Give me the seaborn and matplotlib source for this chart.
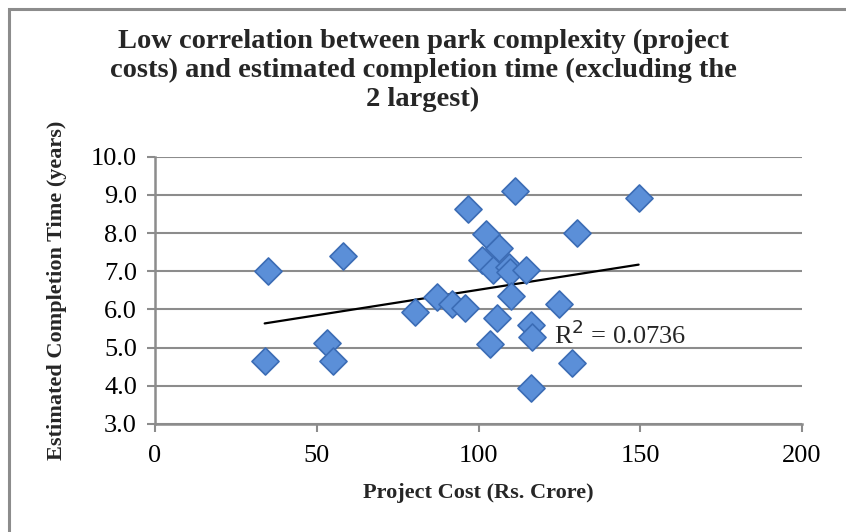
import numpy as np
import pandas as pd
import matplotlib
matplotlib.use("Agg")
import matplotlib.pyplot as plt
from matplotlib.patches import Rectangle
import seaborn as sns

# ── data ────────────────────────────────────
project_cost = [34.9, 33.9, 58.1, 53.3, 55.1, 80.3, 87.2, 91.8, 95.8, 96.6,
                102.2, 101.0, 106.4, 104.6, 109.5, 109.8, 114.8, 111.4, 149.5, 130.5,
                110.2, 105.6, 116.2, 116.6, 103.5, 128.8, 116.3, 125.0]
completion_years = [7.0, 4.65, 7.41, 5.13, 4.65, 5.92, 6.33, 6.13, 6.03, 8.62,
                    7.98, 7.30, 7.62, 7.02, 7.12, 6.97, 7.02, 9.11, 8.93, 8.0,
                    6.34, 5.78, 5.60, 5.28, 5.09, 4.60, 3.95, 6.14]
r2_label = "R$^2$ = 0.0736"
x_ticks = [0, 50, 100, 150, 200]
y_ticks = [3.0, 4.0, 5.0, 6.0, 7.0, 8.0, 9.0, 10.0]

df = pd.DataFrame({"cost": project_cost, "years": completion_years})

sns.set_theme(style="white")
plt.rcParams["font.family"] = ["Liberation Serif", "DejaVu Serif"]

GRID = "#8c8c8c"

fig = plt.figure(figsize=(8.46, 5.32), dpi=100)
ax = fig.add_axes([155 / 846, 1 - 424 / 532, (802 - 155) / 846, (424 - 156.7) / 532])

# outer chart frame (only top/left edges fall inside the picture)
fig.patches.append(Rectangle((9 / 846, -0.1), 1.2, 1 - 9.3 / 532 + 0.1,
                             transform=fig.transFigure, fill=False,
                             edgecolor="#8c8c8c", lw=2.2, zorder=0))

ax.grid(axis="y", color=GRID, lw=1.5)
ax.set_axisbelow(True)

# linear trend line
sns.regplot(data=df, x="cost", y="years", scatter=False, ci=None, truncate=True,
            line_kws={"color": "black", "lw": 1.6, "zorder": 2}, ax=ax)
sns.scatterplot(data=df, x="cost", y="years", marker="D", s=190,
                color="#5b8fd8", edgecolor="#3b6cb5", linewidth=1.2,
                zorder=3, ax=ax)

ax.text(123.2, 5.34, r2_label, fontsize=19, va="center", ha="left", zorder=4)

ax.set_xlim(0, 200)
ax.set_ylim(3.0, 10.0)
ax.set_xticks(x_ticks)
ax.set_yticks(y_ticks)
ax.set_yticklabels([f"{v:.1f}" for v in y_ticks])
ax.tick_params(axis="both", labelsize=19, colors="black", length=6, width=1.5,
               direction="out", color=GRID)
ax.tick_params(axis="x", pad=9)
ax.tick_params(axis="y", pad=7)
ax.tick_params(axis="both", which="both", bottom=True, left=True)

for side in ["top", "right"]:
    ax.spines[side].set_visible(False)
for side in ["left", "bottom"]:
    ax.spines[side].set_color(GRID)
    ax.spines[side].set_linewidth(1.8)

ax.set_xlabel("Project Cost (Rs. Crore)", fontsize=16, fontweight="bold", va="center")
ax.set_ylabel("Estimated Completion Time (years)", fontsize=16, fontweight="bold", va="center")
ax.xaxis.set_label_coords(0.5, (424 - 493) / 267.3)
ax.yaxis.set_label_coords((57 - 155) / 647, 0.5)

fig.text(0.5, 1 - 70 / 532,
         "Low correlation between park complexity (project\n"
         "costs) and estimated completion time (excluding the\n"
         "2 largest)",
         ha="center", va="center", fontsize=20.5, fontweight="bold", linespacing=1.2)

fig.savefig("out.png", dpi=100)
